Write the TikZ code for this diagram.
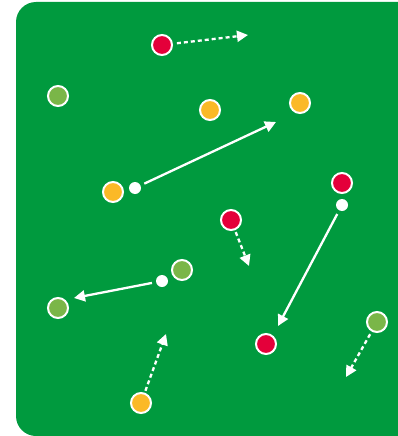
\documentclass[tikz,border=0pt]{standalone}
\usetikzlibrary{arrows.meta}
\definecolor{pitch}{HTML}{009A3E}
\definecolor{redp}{HTML}{E4003A}
\definecolor{yellowp}{HTML}{FBB927}
\definecolor{olivep}{HTML}{7AB648}
\tikzset{
  player/.style={circle,draw=white,line width=2pt,minimum size=20pt,inner sep=0pt,fill=#1},
  ball/.style={circle,fill=white,minimum size=12pt,inner sep=0pt},
  run/.style={white,line width=2.3pt,-{Triangle[length=11pt,width=11pt]}},
  runfree/.style={run,dash pattern=on 4pt off 3pt},
}
\begin{document}
\begin{tikzpicture}[x=1pt,y=-1pt,line cap=butt]
  \useasboundingbox (0,0) rectangle (398,436);
  \clip (0,0) rectangle (398,436);
  \fill[pitch,rounded corners=20pt] (16,2) rectangle (440,436);
  % players
  \node[player=redp] (r1) at (162,45) {};
  \node[player=redp] (r2) at (342,183) {};
  \node[player=redp] (r3) at (231,220) {};
  \node[player=redp] (r4) at (266,344) {};
  \node[player=olivep] (g1) at (58,96) {};
  \node[player=olivep] (g2) at (182,270) {};
  \node[player=olivep] (g3) at (58,308) {};
  \node[player=olivep] (g4) at (377,322) {};
  \node[player=yellowp] (y1) at (210,110) {};
  \node[player=yellowp] (y2) at (300,103) {};
  \node[player=yellowp] (y3) at (113,192) {};
  \node[player=yellowp] (y4) at (141,403) {};
  % balls
  \node[ball] (b1) at (135,188) {};
  \node[ball] (b2) at (342,205) {};
  \node[ball] (b3) at (162,281) {};
  % arrow ends
  \coordinate (e1) at (248,35);
  \coordinate (e2) at (276,122);
  \coordinate (e3) at (278,326);
  \coordinate (e4) at (74,298);
  \coordinate (e5) at (249,266);
  \coordinate (e6) at (166,334);
  \coordinate (e7) at (346,377);
  % passes
  \draw[run,shorten <=4pt] (b1) -- (e2);
  \draw[run,shorten <=4pt] (b2) -- (e3);
  \draw[run,shorten <=4pt] (b3) -- (e4);
  % runs
  \draw[runfree,shorten <=4pt] (r1) -- (e1);
  \draw[runfree,shorten <=2pt] (r3) -- (e5);
  \draw[runfree,shorten <=2pt] (y4) -- (e6);
  \draw[runfree,shorten <=3pt] (g4) -- (e7);
\end{tikzpicture}
\end{document}
